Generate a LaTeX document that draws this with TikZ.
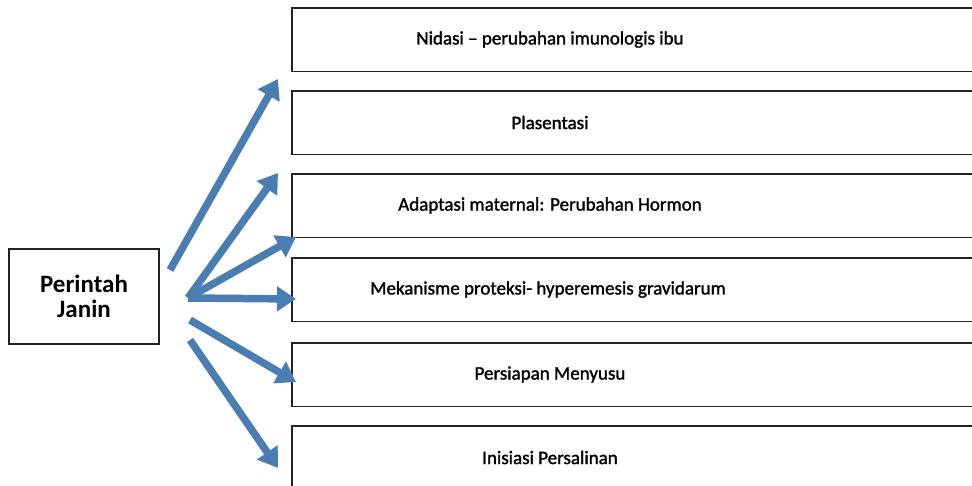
\documentclass[tikz,border=0pt]{standalone}
\usepackage{fontspec}
\setmainfont{Carlito}
\usetikzlibrary{arrows.meta}
\definecolor{arrowblue}{HTML}{4A7DB1}
\definecolor{edge}{HTML}{222222}
\tikzset{
  item/.style={minimum width=700pt, minimum height=63pt, anchor=north west, inner sep=0pt},
  rim/.style={draw=edge, line width=1.6pt},
  lab/.style={text=black, font=\fontsize{19}{23}\selectfont\addfontfeatures{FakeBold=1.5}},
  src/.style={draw=edge, line width=1.3pt, minimum width=150pt, minimum height=95pt, align=center, inner sep=0pt, font=\fontsize{25}{25}\selectfont\bfseries},
  arr/.style={draw=arrowblue, line width=7.5pt, -{Triangle[length=19pt,width=24pt]}},
}
\begin{document}
\begin{tikzpicture}[x=1pt,y=-1pt]
  \useasboundingbox (0,0) rectangle (972,486);

  % source box
  \node[src] (janin) at (84,296.5) {Perintah\\Janin};

  % target boxes (cut off at the right side)
  \node[item] (b1) at (292,8) {};
  \node[item] (b2) at (292,91) {};
  \node[item] (b3) at (292,174) {};
  \node[item] (b4) at (292,258) {};
  \node[item] (b5) at (292,343) {};
  \node[item] (b6) at (292,426) {};
  \draw[rim] (b1.north east) -- (b1.north west) -- (b1.south west) -- (b1.south east);
  \draw[rim] (b2.north east) -- (b2.north west) -- (b2.south west) -- (b2.south east);
  \draw[rim] (b3.north east) -- (b3.north west) -- (b3.south west) -- (b3.south east);
  \draw[rim] (b4.north east) -- (b4.north west) -- (b4.south west) -- (b4.south east);
  \draw[rim] (b5.north east) -- (b5.north west) -- (b5.south west) -- (b5.south east);
  \draw[rim] (b6.north east) -- (b6.north west) -- (b6.south west);
  \node[lab] (t1) at (550,39.5) {Nidasi -- perubahan imunologis ibu};
  \node[lab] (t2) at (550,122.5) {Plasentasi};
  \node[lab] (t3) at (550,205.5) {Adaptasi maternal: Perubahan Hormon};
  \node[lab] (t4) at (548,289.5) {Mekanisme proteksi- hyperemesis gravidarum};
  \node[lab] (t5) at (550,374.5) {Persiapan Menyusu};
  \node[lab] (t6) at (550,457.5) {Inisiasi Persalinan};

  % arrow ends
  \coordinate (s1) at (170,270);
  \coordinate (s2) at (188,298);
  \coordinate (s5) at (190,320);
  \coordinate (s6) at (190,340);
  \coordinate (e1) at (278,79);
  \coordinate (e2) at (278,173);
  \coordinate (e3) at (296,237);
  \coordinate (e4) at (296,299);
  \coordinate (e5) at (296,382);
  \coordinate (e6) at (278,468);

  \draw[arr] (s1) -- (e1);
  \draw[arr] (s2) -- (e2);
  \draw[arr] (s2) -- (e3);
  \draw[arr] (s2) -- (e4);
  \draw[arr] (s5) -- (e5);
  \draw[arr] (s6) -- (e6);
\end{tikzpicture}
\end{document}
